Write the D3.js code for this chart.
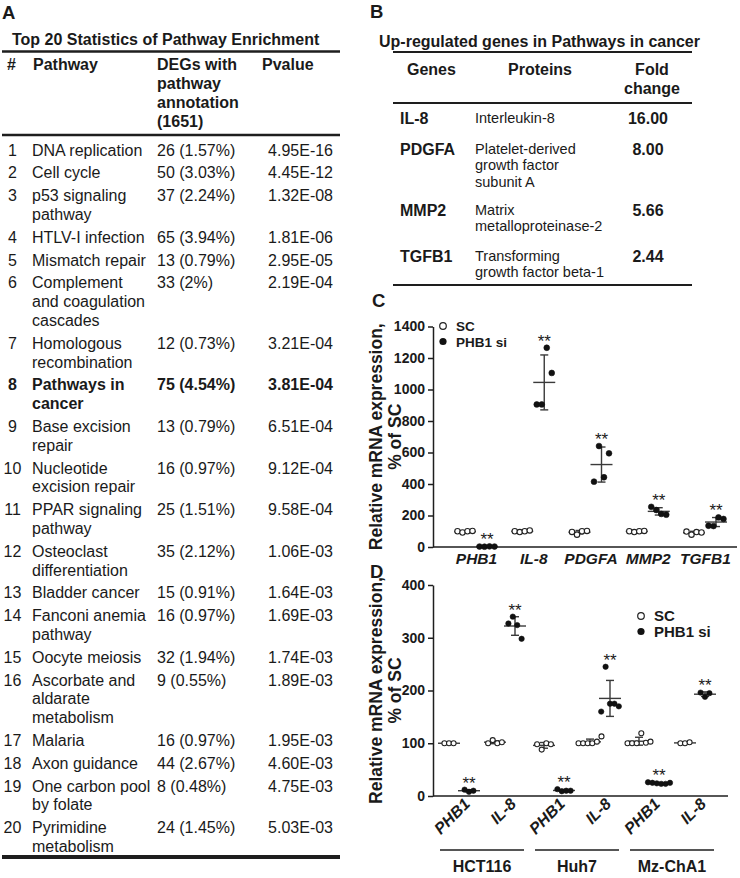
<!DOCTYPE html>
<html><head><meta charset="utf-8">
<script src="https://cdn.jsdelivr.net/npm/d3@7"></script>
<style>
body{margin:0;background:#fff}
svg{display:block}
text{font-family:"Liberation Sans",Arial,Helvetica,sans-serif;fill:#1a1a1a}
</style>
</head><body>
<svg id="fig" width="740" height="878"></svg>
<script>
// ---------- Panel A data ----------
const tableTitleA = "Top 20 Statistics of Pathway Enrichment";
const headerA = ["#", "Pathway", "DEGs with\npathway\nannotation\n(1651)", "Pvalue"];
const pathwayIds = [1,2,3,4,5,6,7,8,9,10,11,12,13,14,15,16,17,18,19,20];
const pathwayNames = [
  "DNA replication","Cell cycle","p53 signaling\npathway","HTLV-I infection","Mismatch repair",
  "Complement\nand coagulation\ncascades","Homologous\nrecombination","Pathways in\ncancer",
  "Base excision\nrepair","Nucleotide\nexcision repair","PPAR signaling\npathway",
  "Osteoclast\ndifferentiation","Bladder cancer","Fanconi anemia\npathway","Oocyte meiosis",
  "Ascorbate and\naldarate\nmetabolism","Malaria","Axon guidance","One carbon pool\nby folate",
  "Pyrimidine\nmetabolism"];
const degCounts = ["26 (1.57%)","50 (3.03%)","37 (2.24%)","65 (3.94%)","13 (0.79%)","33 (2%)",
  "12 (0.73%)","75 (4.54%)","13 (0.79%)","16 (0.97%)","25 (1.51%)","35 (2.12%)","15 (0.91%)",
  "16 (0.97%)","32 (1.94%)","9 (0.55%)","16 (0.97%)","44 (2.67%)","8 (0.48%)","24 (1.45%)"];
const pValues = ["4.95E-16","4.45E-12","1.32E-08","1.81E-06","2.95E-05","2.19E-04","3.21E-04",
  "3.81E-04","6.51E-04","9.12E-04","9.58E-04","1.06E-03","1.64E-03","1.69E-03","1.74E-03",
  "1.89E-03","1.95E-03","4.60E-03","4.75E-03","5.03E-03"];
const highlightId = 8;

// ---------- Panel B data ----------
const tableTitleB = "Up-regulated genes in Pathways in cancer";
const headerB = ["Genes", "Proteins", "Fold\nchange"];
const genesB = ["IL-8","PDGFA","MMP2","TGFB1"];
const proteinsB = ["Interleukin-8","Platelet-derived\ngrowth factor\nsubunit A","Matrix\nmetalloproteinase-2","Transforming\ngrowth factor beta-1"];
const foldChanges = ["16.00","8.00","5.66","2.44"];

// ---------- Panel C data ----------
const genesC = ["PHB1","IL-8","PDGFA","MMP2","TGFB1"];
const scValuesC = [[100,92,100,102],[100,95,100,105],[96,78,100,102],[100,95,100,102],[98,78,95,92]];
const siValuesC = [[3,2,4,3],[905,905,1265,1105],[415,641,443,595],[255,235,210,205],[135,133,188,178]];
const yTicksC = [0,200,400,600,800,1000,1200,1400];

// ---------- Panel D data ----------
const cellLines = ["HCT116","Huh7","Mz-ChA1"];
const genesD = ["PHB1","IL-8"];
const scValuesD = [
  [[100,100,100],[100,106,100,102]],
  [[98,88,100,98],[100,100,100,100,103,113]],
  [[100,100,100,119,101,103],[100,100,102]]];
const siValuesD = [
  [[12,8,10],[327,340,324,298]],
  [[13,9,10,10],[160,245,175,175,170]],
  [[26,25,24,23,23,25],[196,188,195]]];
const yTicksD = [0,100,200,300,400];

const legendLabels = ["SC","PHB1 si"];
const yTitle = ["Relative mRNA expression,","% of SC"];
const sigMark = "**";

// ---------- helpers ----------
const svg = d3.select("#fig");
const INK = "#1e1e1e";
function txt(g,x,y,s,size,o={}){
  const t=g.append("text").attr("x",x).attr("y",y).attr("font-size",size).text(s);
  if(o.bold) t.attr("font-weight","bold");
  if(o.italic) t.attr("font-style","italic");
  if(o.anchor) t.attr("text-anchor",o.anchor);
  return t;
}
function lines(g,x,y,str,lh,size,o){ str.split("\n").forEach((l,i)=>txt(g,x,y+i*lh,l,size,o)); }
function hline(g,x1,x2,y,w){ g.append("line").attr("x1",x1).attr("x2",x2).attr("y1",y).attr("y2",y).attr("stroke",INK).attr("stroke-width",w); }

// ---------- Panel A ----------
const A = svg.append("g");
txt(A,2,18.5,"A",18.5,{bold:true});
txt(A,12,45,tableTitleA,16,{bold:true});
hline(A,2,340,51.5,2.5);
txt(A,7,69.5,headerA[0],16,{bold:true});
txt(A,33,69.5,headerA[1],16,{bold:true});
lines(A,157,69.5,headerA[2],19.3,16,{bold:true});
txt(A,262,69.5,headerA[3],16,{bold:true});
hline(A,2,340,135,2.5);
{
  let y=155.5; const L=18.8, G=22.8;
  pathwayNames.forEach((name,i)=>{
    const bold = pathwayIds[i]===highlightId;
    const n = name.split("\n").length;
    txt(A,12.5,y,pathwayIds[i],16,{anchor:"middle",bold});
    lines(A,32,y,name,L,16,{bold});
    txt(A,157,y,degCounts[i],16,{bold});
    txt(A,333,y,pValues[i],16,{bold,anchor:"end"});
    y += G + (n-1)*L;
  });
}
hline(A,2,340,857,4);

// ---------- Panel B ----------
const B = svg.append("g");
txt(B,370,18,"B",18.5,{bold:true});
txt(B,379,47,tableTitleB,16,{bold:true});
hline(B,393,692,52,1.8);
txt(B,407,74.5,headerB[0],16,{bold:true});
txt(B,508,74.5,headerB[1],16,{bold:true});
lines(B,652,74.5,headerB[2],19,16,{bold:true,anchor:"middle"});
hline(B,393,692,103,2);
{
  let y=124;
  genesB.forEach((g,i)=>{
    const n = proteinsB[i].split("\n").length;
    txt(B,400,y,g,16,{bold:true});
    lines(B,475,y-1.5,proteinsB[i],16.8,14.5,{});
    txt(B,648,y,foldChanges[i],16,{bold:true,anchor:"middle"});
    y += 31 + (n-1)*15;
  });
}
hline(B,393,692,285,2);

// ---------- scatter helpers ----------
function styleAxis(g){
  g.select(".domain").attr("stroke",INK).attr("stroke-width",1.5);
  g.selectAll(".tick line").attr("stroke",INK).attr("stroke-width",1.5);
  g.selectAll(".tick text").attr("font-size",14).attr("font-weight","bold").attr("fill","#1a1a1a")
    .style("font-family","'Liberation Sans',Arial,sans-serif");
}
function drawGroup(g,cx,vals,filled,y,spacing,r){
  const n=vals.length, m=d3.mean(vals), sd=d3.deviation(vals)||0;
  const eb=g.append("g").attr("stroke","#3a3a3a").attr("stroke-width",1.4);
  eb.append("line").attr("x1",cx).attr("x2",cx).attr("y1",y(m-sd)).attr("y2",y(m+sd));
  eb.append("line").attr("x1",cx-4).attr("x2",cx+4).attr("y1",y(m-sd)).attr("y2",y(m-sd));
  eb.append("line").attr("x1",cx-4).attr("x2",cx+4).attr("y1",y(m+sd)).attr("y2",y(m+sd));
  eb.append("line").attr("x1",cx-11).attr("x2",cx+11).attr("y1",y(m)).attr("y2",y(m));
  g.selectAll(null).data(vals).enter().append("circle")
    .attr("cx",(d,i)=>cx+(i-(n-1)/2)*spacing).attr("cy",d=>y(d)).attr("r",r)
    .attr("fill",filled?"#111":"#fff").attr("stroke",filled?"#111":"#222").attr("stroke-width",filled?0.6:1.1);
  return Math.max(d3.max(vals), m+sd);
}
function yTitleText(g,cy){
  g.append("text").attr("transform",`translate(382,${cy}) rotate(-90)`).attr("text-anchor","middle")
    .attr("font-size",17.5).attr("font-weight","bold").text(yTitle[0]);
  g.append("text").attr("transform",`translate(401,${cy}) rotate(-90)`).attr("text-anchor","middle")
    .attr("font-size",17.5).attr("font-weight","bold").text(yTitle[1]);
}
function legend(g,x,y,size){
  g.append("circle").attr("cx",x).attr("cy",y).attr("r",3.3).attr("fill","#fff").attr("stroke","#222").attr("stroke-width",1.2);
  g.append("circle").attr("cx",x).attr("cy",y+15.5).attr("r",3.6).attr("fill","#111");
  txt(g,x+13,y+5,legendLabels[0],size,{bold:true});
  txt(g,x+13,y+20.5,legendLabels[1],size,{bold:true});
}

// ---------- Panel C ----------
const C = svg.append("g");
txt(C,372,307,"C",18.5,{bold:true});
const yC = d3.scaleLinear().domain([0,1400]).range([547,326.5]);
const xC = d3.scalePoint().domain(genesC).range([476,705]);
const offC = 11;
const axC = C.append("g").attr("transform","translate(433,0)")
  .call(d3.axisLeft(yC).tickValues(yTicksC).tickFormat(d3.format("d")).tickSize(5).tickSizeOuter(0).tickPadding(3));
styleAxis(axC);
hline(C,433,737,547,1.5);
const axCx = C.append("g").attr("transform","translate(0,547)")
  .call(d3.axisBottom(xC).tickSize(0).tickPadding(6));
axCx.select(".domain").remove();
axCx.selectAll(".tick text").attr("font-size",15.5).attr("font-weight","bold").attr("font-style","italic")
  .attr("fill","#1a1a1a").style("font-family","'Liberation Sans',Arial,sans-serif");
genesC.forEach((gname,i)=>{
  drawGroup(C,xC(gname)-offC,scValuesC[i],false,yC,5,2.7);
  const top = drawGroup(C,xC(gname)+offC,siValuesC[i],true,yC,5,2.9);
  txt(C,xC(gname)+offC,yC(top)-1,sigMark,17,{anchor:"middle"});
});
yTitleText(C,(326.5+547)/2);
legend(C,443,326,13.5);

// ---------- Panel D ----------
const D = svg.append("g");
txt(D,370,578,"D",18.5,{bold:true});
const yD = d3.scaleLinear().domain([0,400]).range([796,585]);
const xCell = d3.scalePoint().domain(cellLines).range([482,672]);
const xGene = d3.scalePoint().domain(genesD).range([-23,23]);
const offD = 10;
const axD = D.append("g").attr("transform","translate(433,0)")
  .call(d3.axisLeft(yD).tickValues(yTicksD).tickFormat(d3.format("d")).tickSize(5).tickSizeOuter(0).tickPadding(3));
styleAxis(axD);
hline(D,433,728,796,1.5);
cellLines.forEach((cl,ci)=>{
  const cxCell = xCell(cl);
  genesD.forEach((gn,gi)=>{
    const cx = cxCell + xGene(gn);
    drawGroup(D,cx-offD,scValuesD[ci][gi],false,yD,4.6,2.5);
    const top = drawGroup(D,cx+offD,siValuesD[ci][gi],true,yD,4.4,2.7);
    txt(D,cx+offD,yD(top)-1,sigMark,17,{anchor:"middle"});
    D.append("text").attr("transform",`translate(${cx+12},805) rotate(-45)`).attr("text-anchor","end")
      .attr("font-size",16).attr("font-weight","bold").attr("font-style","italic").text(gn);
  });
  hline(D,cxCell-42,cxCell+42,850,1.6);
  txt(D,cxCell,872,cl,16,{bold:true,anchor:"middle"});
});
yTitleText(D,(585+796)/2);
legend(D,641,616,15);
</script>
</body></html>
